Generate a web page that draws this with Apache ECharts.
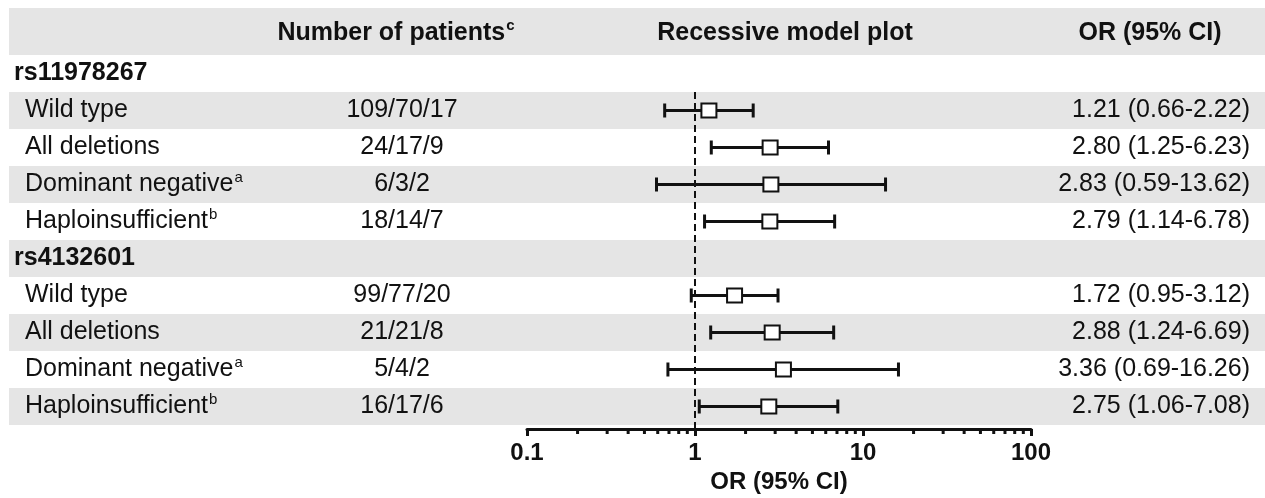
<!DOCTYPE html>
<html>
<head>
<meta charset="utf-8">
<script src="https://cdn.jsdelivr.net/npm/echarts@6/dist/echarts.min.js"></script>
<style>
  html, body { margin: 0; padding: 0; background: #fff; }
  #forest { width: 1265px; height: 498px; }
</style>
</head>
<body>
<div id="forest"></div>
<script>
  // rows of the table, top to bottom
  var rowLabels = ['rs11978267', 'Wild type', 'All deletions', 'Dominant negative', 'Haploinsufficient',
                   'rs4132601', 'Wild type', 'All deletions', 'Dominant negative', 'Haploinsufficient'];
  var rowSup = ['', '', '', 'a', 'b', '', '', '', 'a', 'b'];
  var isGroup = [true, false, false, false, false, true, false, false, false, false];
  var patients = ['', '109/70/17', '24/17/9', '6/3/2', '18/14/7', '', '99/77/20', '21/21/8', '5/4/2', '16/17/6'];
  var orValue = [null, 1.21, 2.80, 2.83, 2.79, null, 1.72, 2.88, 3.36, 2.75];
  var ciLow = [null, 0.66, 1.25, 0.59, 1.14, null, 0.95, 1.24, 0.69, 1.06];
  var ciHigh = [null, 2.22, 6.23, 13.62, 6.78, null, 3.12, 6.69, 16.26, 7.08];
  var minorTicks = [0.2, 0.3, 0.4, 0.5, 0.6, 0.7, 0.8, 0.9, 2, 3, 4, 5, 6, 7, 8, 9, 20, 30, 40, 50, 60, 70, 80, 90];
  var refOR = 1;

  var FONT = "'Liberation Sans', Arial, Helvetica, sans-serif";
  var rowKeys = rowLabels.map(function (d, i) { return 'r' + i; });

  var orText = orValue.map(function (v, i) {
    if (v == null) return '';
    return v.toFixed(2) + ' (' + ciLow[i].toFixed(2) + '-' + ciHigh[i].toFixed(2) + ')';
  });

  var barData = [];
  for (var i = 0; i < rowLabels.length; i++) {
    if (orValue[i] != null) barData.push([i, orValue[i], ciLow[i], ciHigh[i]]);
  }

  var myChart = echarts.init(document.getElementById('forest'));

  var textRich = {
    g: { fontFamily: FONT, fontSize: 25, fontWeight: 'bold', color: '#111' },
    s: { fontFamily: FONT, fontSize: 25, color: '#111', padding: [0, 0, 0, 11] },
    sup: { fontFamily: FONT, fontSize: 15, color: '#111', verticalAlign: 'bottom', padding: [0, 0, 14, 1] }
  };

  var option = {
    animation: false,
    backgroundColor: '#fff',
    graphic: [
      { type: 'rect', z: -10, shape: { x: 9, y: 8, width: 1256, height: 47 }, style: { fill: '#e5e5e5' } },
      { type: 'text', x: 396, y: 33, z: 10, style: {
          text: '{h|Number of patients}{sup|c}', align: 'center', verticalAlign: 'middle',
          rich: { h: { fontFamily: FONT, fontSize: 25, fontWeight: 'bold', fill: '#111' },
                  sup: { fontFamily: FONT, fontSize: 15, fontWeight: 'bold', fill: '#111', padding: [0, 0, 14, 1] } } } },
      { type: 'text', x: 785, y: 33, z: 10, style: {
          text: 'Recessive model plot', align: 'center', verticalAlign: 'middle',
          font: 'bold 25px ' + FONT, fill: '#111' } },
      { type: 'text', x: 1150, y: 33, z: 10, style: {
          text: 'OR (95% CI)', align: 'center', verticalAlign: 'middle',
          font: 'bold 25px ' + FONT, fill: '#111' } }
    ],
    grid: [
      { left: 527, right: 234, top: 55, height: 370, outerBoundsMode: 'none', containLabel: false },
      { left: 9, right: 0, top: 55, height: 370, outerBoundsMode: 'none', containLabel: false }
    ],
    xAxis: [
      {
        type: 'log', logBase: 10, min: 0.1, max: 100, gridIndex: 0,
        position: 'bottom', offset: 4,
        name: 'OR (95% CI)', nameLocation: 'middle', nameGap: 40,
        nameTextStyle: { fontFamily: FONT, fontSize: 24, fontWeight: 'bold', color: '#111' },
        axisLine: { show: true, lineStyle: { color: '#111', width: 3 } },
        axisTick: { show: true, length: 7, lineStyle: { color: '#111', width: 3 } },
        axisLabel: { fontFamily: FONT, fontSize: 24, fontWeight: 'bold', color: '#111', margin: 12,
                     formatter: function (v) { return String(v); } },
        splitLine: { show: false }
      },
      { type: 'value', gridIndex: 1, min: 0, max: 1, show: false }
    ],
    yAxis: [
      {
        type: 'category', gridIndex: 0, inverse: true, data: rowKeys, position: 'left', z: 3,
        axisLine: { show: false }, axisTick: { show: false },
        axisLabel: { align: 'left', margin: 513, rich: textRich, hideOverlap: false,
          formatter: function (v, idx) {
            return (isGroup[idx] ? '{g|' : '{s|') + rowLabels[idx] + '}' + (rowSup[idx] ? '{sup|' + rowSup[idx] + '}' : '');
          } }
      },
      {
        type: 'category', gridIndex: 0, inverse: true, data: rowKeys, position: 'left', offset: 0, z: 3,
        axisLine: { show: false }, axisTick: { show: false },
        axisLabel: { align: 'center', margin: 125, fontFamily: FONT, fontSize: 25, color: '#111',
          formatter: function (v, idx) { return patients[idx]; } }
      },
      {
        type: 'category', gridIndex: 0, inverse: true, data: rowKeys, position: 'right', offset: 0, z: 3,
        axisLine: { show: false }, axisTick: { show: false },
        axisLabel: { align: 'right', margin: 219, fontFamily: FONT, fontSize: 25, color: '#111',
          formatter: function (v, idx) { return orText[idx]; } }
      },
      {
        type: 'category', gridIndex: 1, inverse: true, data: rowKeys, z: 0,
        axisLine: { show: false }, axisTick: { show: false }, axisLabel: { show: false },
        splitLine: { show: false },
        splitArea: { show: true, areaStyle: { color: ['#ffffff', '#e5e5e5'] } }
      }
    ],
    series: [
      {
        // dashed reference line at OR = 1
        type: 'custom', xAxisIndex: 0, yAxisIndex: 0, z: 3,
        data: [[refOR, 1]],
        renderItem: function (params, api) {
          var top = api.coord([api.value(0), api.value(1)]);
          var band = api.size([0, 1])[1];
          var bottom = api.coord([api.value(0), rowLabels.length - 1])[1] + band / 2 + 4;
          return { type: 'line', shape: { x1: top[0], y1: top[1] - band / 2, x2: top[0], y2: bottom },
                   style: { stroke: '#111', lineWidth: 2, lineDash: [7, 4] } };
        }
      },
      {
        // minor ticks of the log axis
        type: 'custom', xAxisIndex: 0, yAxisIndex: 0, z: 3,
        data: minorTicks.map(function (v) { return [v, rowLabels.length - 1]; }),
        renderItem: function (params, api) {
          var p = api.coord([api.value(0), api.value(1)]);
          var y0 = p[1] + api.size([0, 1])[1] / 2 + 4;
          return { type: 'line', shape: { x1: p[0], y1: y0, x2: p[0], y2: y0 + 5 },
                   style: { stroke: '#111', lineWidth: 3 } };
        }
      },
      {
        // error bars + OR squares
        type: 'custom', xAxisIndex: 0, yAxisIndex: 0, z: 5,
        data: barData,
        renderItem: function (params, api) {
          var c = api.coord([api.value(1), api.value(0)]);
          var lo = api.coord([api.value(2), api.value(0)]);
          var hi = api.coord([api.value(3), api.value(0)]);
          var capH = 7;
          return {
            type: 'group',
            children: [
              { type: 'line', shape: { x1: lo[0], y1: c[1], x2: hi[0], y2: c[1] }, style: { stroke: '#111', lineWidth: 3 } },
              { type: 'line', shape: { x1: lo[0], y1: c[1] - capH, x2: lo[0], y2: c[1] + capH }, style: { stroke: '#111', lineWidth: 3 } },
              { type: 'line', shape: { x1: hi[0], y1: c[1] - capH, x2: hi[0], y2: c[1] + capH }, style: { stroke: '#111', lineWidth: 3 } },
              { type: 'rect', shape: { x: c[0] - 7.5, y: c[1] - 7, width: 15, height: 14 },
                style: { fill: '#fff', stroke: '#111', lineWidth: 2 } }
            ]
          };
        }
      }
    ]
  };

  myChart.setOption(option);
</script>
</body>
</html>
